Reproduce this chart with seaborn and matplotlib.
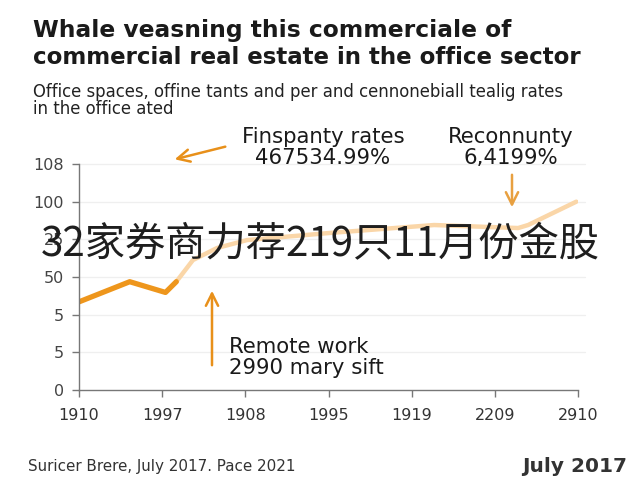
import pandas as pd
import numpy as np
import matplotlib
matplotlib.use('Agg')
import matplotlib.pyplot as plt
import seaborn as sns

# tick labels as they appear on the chart
x_labels = ['1910', '1997', '1908', '1995', '1919', '2209', '2910']
y_labels = ['0', '5', '5', '50', '25', '100', '108']

# line (positions on the tick grid)
dark_x = [0, 0.61, 1.04, 1.17]
dark_y = [2.34, 2.875, 2.59, 2.875]
light_x = [1.17, 1.37, 1.66, 2.02, 3.02, 4.27, 5.28, 5.40, 5.98]
light_y = [2.875, 3.45, 3.77, 3.98, 4.17, 4.38, 4.30, 4.38, 5.0]

dark = pd.DataFrame({'x': dark_x, 'y': dark_y})
light = pd.DataFrame({'x': light_x, 'y': light_y})

sns.set_style('white')
plt.rcParams['font.family'] = ['DejaVu Sans']

fig = plt.figure(figsize=(6.4, 4.8), dpi=100)
ax = fig.add_axes([79 / 640, 1 - 390 / 480, 499 / 640, 226 / 480])

sns.lineplot(data=light, x='x', y='y', ax=ax, color='#FAD6A8', linewidth=3.2,
             solid_capstyle='round')
sns.lineplot(data=dark, x='x', y='y', ax=ax, color='#EE961C', linewidth=3.8,
             solid_capstyle='round')

ax.set_xlim(0, 6)
ax.set_ylim(0, 6)
ax.set_xticks(range(len(x_labels)))
ax.set_xticklabels(x_labels, fontsize=11.5, color='#333333')
ax.set_yticks(range(len(y_labels)))
ax.set_yticklabels(y_labels, fontsize=11.5, color='#444444')
ax.set_xlabel('')
ax.set_ylabel('')
for v in range(1, 7):
    ax.plot([0, 6.08], [v, v], color='#EFEFEF', linewidth=0.9, zorder=0, clip_on=False)
ax.tick_params(axis='both', length=5, width=1, color='#777777', pad=6)
ax.tick_params(axis='y', direction='out', left=True)
ax.tick_params(axis='x', direction='out', bottom=True, pad=8)
for s in ['top', 'right']:
    ax.spines[s].set_visible(False)
for s in ['left', 'bottom']:
    ax.spines[s].set_color('#777777')
    ax.spines[s].set_linewidth(1)

# titles
fig.text(33 / 640, 1 - 30 / 480, 'Whale veasning this commerciale of', fontsize=16.8,
         fontweight='bold', color='#1a1a1a', va='center')
fig.text(33 / 640, 1 - 57 / 480, 'commercial real estate in the office sector', fontsize=16.5,
         fontweight='bold', color='#1a1a1a', va='center')
fig.text(33 / 640, 1 - 92 / 480, 'Office spaces, offine tants and per and cennonebiall tealig rates',
         fontsize=11.9, color='#222222', va='center')
fig.text(33 / 640, 1 - 109 / 480, 'in the office ated', fontsize=11.9, color='#222222', va='center')

# annotations
orange = '#E8901A'
ann = dict(fontsize=15.3, color='#1a1a1a', va='center')
fig.text(323 / 640, 1 - 137 / 480, 'Finspanty rates', ha='center', **ann)
fig.text(323 / 640, 1 - 158 / 480, '467534.99%', ha='center', **ann)
fig.text(511 / 640, 1 - 137 / 480, 'Reconnunty', ha='center', **ann)
fig.text(511 / 640, 1 - 158 / 480, '6,4199%', ha='center', **ann)
fig.text(229 / 640, 1 - 347 / 480, 'Remote work', **ann)
fig.text(229 / 640, 1 - 368 / 480, '2990 mary sift', **ann)

arrow = dict(arrowstyle='->', color=orange, linewidth=1.8, mutation_scale=22)
fig.add_artist(matplotlib.patches.FancyArrowPatch(
    (228 / 640, 1 - 146 / 480), (172 / 640, 1 - 160 / 480),
    transform=fig.transFigure, **arrow))
fig.add_artist(matplotlib.patches.FancyArrowPatch(
    (512 / 640, 1 - 172 / 480), (512 / 640, 1 - 210 / 480),
    transform=fig.transFigure, arrowstyle='->', color='#E8A040', linewidth=1.8, mutation_scale=22))
fig.add_artist(matplotlib.patches.FancyArrowPatch(
    (212 / 640, 1 - 368 / 480), (212 / 640, 1 - 288 / 480),
    transform=fig.transFigure, **arrow))

# footer
fig.text(28 / 640, 1 - 466 / 480, 'Suricer Brere, July 2017. Pace 2021', fontsize=10.9,
         color='#333333', va='center')
fig.text(627 / 640, 1 - 466 / 480, 'July 2017', fontsize=14.5, fontweight='bold',
         color='#333333', va='center', ha='right')

# overlay caption
fig.text(320 / 640, 1 - 245 / 480, '32家券商力荐219只11月份金股', fontsize=29,
         family=['Noto Sans CJK SC', 'DejaVu Sans'], color='#1e1e1e', ha='center', va='center')

fig.savefig('out.png', dpi=100)
